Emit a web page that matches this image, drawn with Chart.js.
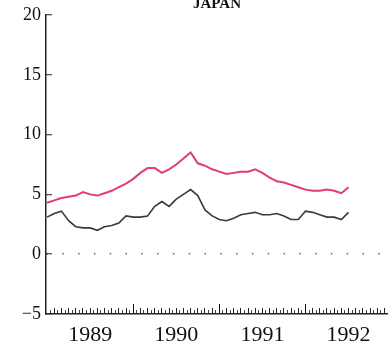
<!DOCTYPE html>
<html>
<head>
<meta charset="utf-8">
<script src="https://cdn.jsdelivr.net/npm/chart.js@4/dist/chart.umd.min.js"></script>
<style>
  html, body { margin: 0; padding: 0; background: #fff; }
  #wrap { width: 388px; height: 345px; position: relative; }
</style>
</head>
<body>
<div id="wrap"><canvas id="japanChart"></canvas></div>
<script>
// ─── Data (monthly, month 0 = Jan 1989) ───────────────────────
const months = [0,1,2,3,4,5,6,7,8,9,10,11,12,13,14,15,16,17,18,19,20,21,
                22,23,24,25,26,27,28,29,30,31,32,33,34,35,36,37,38,39,40,41,42];
const redSeries = [4.3,4.5,4.7,4.8,4.9,5.2,5.0,4.9,5.1,5.3,5.6,5.9,6.3,6.8,7.2,7.2,
                   6.8,7.1,7.5,8.0,8.5,7.6,7.4,7.1,6.9,6.7,6.8,6.9,6.9,7.1,6.8,6.4,
                   6.1,6.0,5.8,5.6,5.4,5.3,5.3,5.4,5.3,5.1,5.6];
const blackSeries = [3.1,3.4,3.6,2.8,2.3,2.2,2.2,2.0,2.3,2.4,2.6,3.2,3.1,3.1,3.2,4.0,
                     4.4,4.0,4.6,5.0,5.4,4.9,3.7,3.2,2.9,2.8,3.0,3.3,3.4,3.5,3.3,3.3,
                     3.4,3.2,2.9,2.9,3.6,3.5,3.3,3.1,3.1,2.9,3.5];
const yearLabels = ['1989', '1990', '1991', '1992'];
const yTicks = [-5, 0, 5, 10, 15, 20];

const X_MIN = -0.15, X_MAX = 47.5;
const serif = 'Liberation Serif';

function toPoints(vals) {
    return vals.map((v, i) => ({ x: months[i], y: v }));
}

// overlay tick axis sitting on the y = -5 baseline, ticks drawn upward
function tickAxis(values, len, color) {
    return {
        type: 'linear',
        position: { y: -5 },
        min: X_MIN, max: X_MAX,
        afterBuildTicks: s => { s.ticks = values.map(v => ({ value: v })); },
        ticks: { display: false },
        grid: { drawOnChartArea: false, tickLength: len, tickColor: color, tickWidth: 1 },
        border: { display: false }
    };
}

const halfTicks = [], monthTicks = [];
for (let m = 0.5; m < X_MAX; m += 1) halfTicks.push(m);
for (let m = 1; m < X_MAX; m += 1) if (m % 12 !== 0) monthTicks.push(m);
const yearTicks = [12, 24, 36];

new Chart(document.getElementById('japanChart'), {
    type: 'line',
    data: {
        datasets: [
            {
                data: toPoints(redSeries),
                borderColor: '#e33d72',
                borderWidth: 2,
                pointRadius: 0,
                tension: 0
            },
            {
                data: toPoints(blackSeries),
                borderColor: '#3a3a3a',
                borderWidth: 1.6,
                pointRadius: 0,
                tension: 0
            }
        ]
    },
    options: {
        responsive: true,
        maintainAspectRatio: false,
        animation: false,
        layout: { padding: { top: -5, left: 0, right: 0, bottom: 0 } },
        plugins: {
            legend: { display: false },
            tooltip: { enabled: false },
            title: {
                display: true,
                text: 'JAPAN',
                fullSize: false,
                color: '#111',
                font: { family: serif, size: 15, weight: 'bold' },
                padding: { top: 0, bottom: 2 }
            }
        },
        scales: {
            x: {
                type: 'linear',
                position: 'bottom',
                min: X_MIN, max: X_MAX,
                afterBuildTicks: s => { s.ticks = yearLabels.map((_, i) => ({ value: 6 + 12 * i })); },
                afterFit: s => { s.height = 31; },
                ticks: {
                    callback: (v) => yearLabels[Math.round((v - 6) / 12)],
                    color: '#111',
                    font: { family: serif, size: 22 },
                    padding: 8,
                    maxRotation: 0,
                    autoSkip: false
                },
                grid: { drawOnChartArea: false, drawTicks: false },
                border: { color: '#222', width: 1.5 }
            },
            xHalf: tickAxis(halfTicks, -4, '#444'),
            xMonth: tickAxis(monthTicks, -6, '#222'),
            xYear: tickAxis(yearTicks, -10, '#111'),
            y: {
                min: -5, max: 20,
                afterBuildTicks: s => { s.ticks = yTicks.map(v => ({ value: v })); },
                afterFit: s => { s.width = 46; },
                ticks: {
                    callback: v => v < 0 ? '\u2212' + Math.abs(v) : String(v),
                    color: '#111',
                    font: { family: serif, size: 18, lineHeight: 0.3 },
                    padding: 11
                },
                grid: {
                    color: c => c.tick && c.tick.value === 0 ? '#666' : 'rgba(0,0,0,0)',
                    lineWidth: 1.5,
                    tickLength: -6,
                    tickColor: '#222',
                    tickWidth: 1
                },
                border: { color: '#222', width: 1.5, dash: [1.5, 14.3] }
            }
        }
    }
});
</script>
</body>
</html>
